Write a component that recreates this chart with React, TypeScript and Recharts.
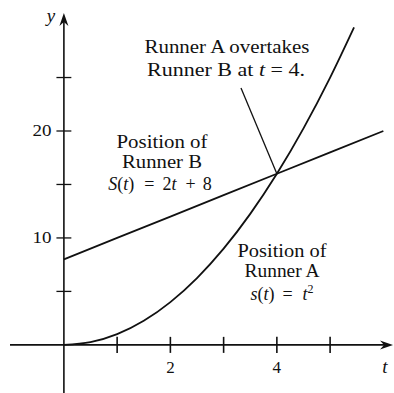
import React from "react";
import {
  LineChart,
  Line,
  XAxis,
  YAxis,
  ReferenceLine,
  ReferenceDot,
} from "recharts";

// Runner B: S(t) = 2t + 8
const timeB = [0, 1, 2, 3, 4, 5, 6];
const positionB = [8, 10, 12, 14, 16, 18, 20];

// Runner A: s(t) = t^2
const timeA = [0, 0.5, 1, 1.5, 2, 2.5, 3, 3.5, 4, 4.5, 5, 5.45];
const positionA = [0, 0.25, 1, 2.25, 4, 6.25, 9, 12.25, 16, 20.25, 25, 29.7];

const xTickMarks = [1, 2, 3, 4, 5];
const xTickLabels = [2, 4];
const yTickMarks = [5, 10, 15, 20, 25];
const yTickLabels = [10, 20];

const W = 394;
const H = 393;
const X_DOMAIN: [number, number] = [-1.2, 6.2];
const Y_DOMAIN: [number, number] = [-4.5, 32.25];

// pixel -> data helpers for placing the annotations
const tAt = (px: number) => X_DOMAIN[0] + (px / W) * (X_DOMAIN[1] - X_DOMAIN[0]);
const vAt = (py: number) => Y_DOMAIN[1] - (py / H) * (Y_DOMAIN[1] - Y_DOMAIN[0]);

const seriesA = timeA.map((t, i) => ({ t, v: positionA[i] }));
const seriesB = timeB.map((t, i) => ({ t, v: positionB[i] }));

const FONT = "Liberation Serif, Times New Roman, serif";

type Seg = { s: string; i?: boolean; sup?: boolean; dx?: number };
type Note = { x: number; y: number; w?: number; size?: number; segs: Seg[] };

const notes: Note[] = [
  { x: 227, y: 53, w: 165, segs: [{ s: "Runner A overtakes" }] },
  { x: 226, y: 76, w: 158, segs: [{ s: "Runner B at " }, { s: "t", i: true }, { s: " = 4." }] },
  { x: 162, y: 148, w: 91, segs: [{ s: "Position of" }] },
  { x: 162, y: 168, w: 80, segs: [{ s: "Runner B" }] },
  {
    x: 160,
    y: 190,
    segs: [
      { s: "S", i: true },
      { s: "(" },
      { s: "t", i: true },
      { s: ")" },
      { s: "=", dx: 10 },
      { s: "2", dx: 8 },
      { s: "t", i: true },
      { s: "+", dx: 9 },
      { s: "8", dx: 7 },
    ],
  },
  { x: 282, y: 257, w: 89, segs: [{ s: "Position of" }] },
  { x: 282, y: 277, w: 75, segs: [{ s: "Runner A" }] },
  {
    x: 282,
    y: 300,
    segs: [
      { s: "s", i: true },
      { s: "(" },
      { s: "t", i: true },
      { s: ")" },
      { s: "=", dx: 8 },
      { s: "t", i: true, dx: 10 },
      { s: "2", sup: true },
    ],
  },
  // axis names
  { x: 51, y: 22, size: 19, segs: [{ s: "y", i: true }] },
  { x: 385, y: 373, size: 19, segs: [{ s: "t", i: true }] },
];

const ArrowLine = (props: any) => {
  const { x1, y1, x2, y2 } = props;
  const dx = x2 - x1;
  const dy = y2 - y1;
  const len = Math.sqrt(dx * dx + dy * dy) || 1;
  const ux = dx / len;
  const uy = dy / len;
  const bx = x2 - ux * 13;
  const by = y2 - uy * 13;
  const nx = bx + ux * 4;
  const ny = by + uy * 4;
  const head = `${x2},${y2} ${bx - uy * 4.5},${by + ux * 4.5} ${nx},${ny} ${bx + uy * 4.5},${by - ux * 4.5}`;
  return (
    <g>
      <line x1={x1} y1={y1} x2={nx} y2={ny} stroke="#111" strokeWidth={1.6} />
      <polygon points={head} fill="#111" />
    </g>
  );
};

const renderNote = (n: Note) => (p: any) =>
  (
    <text
      x={p.cx}
      y={p.cy}
      textAnchor="middle"
      style={{ fontFamily: FONT, fontSize: n.size ?? 18 }}
      fill="#111"
      textLength={n.w}
      lengthAdjust={n.w ? "spacingAndGlyphs" : undefined}
    >
      {n.segs.map((g, k) => (
        <tspan
          key={k}
          style={{ fontStyle: g.i ? "italic" : "normal", fontSize: g.sup ? 12 : undefined }}
          dx={g.dx}
          dy={g.sup ? -7 : undefined}
        >
          {g.s}
        </tspan>
      ))}
    </text>
  );

export default function App() {
  return (
    <div style={{ position: "fixed", left: 0, top: 0, background: "#fff" }}>
      <LineChart width={W} height={H} margin={{ top: 0, right: 0, bottom: 0, left: 0 }}>
        <XAxis type="number" dataKey="t" domain={X_DOMAIN} allowDataOverflow hide />
        <YAxis type="number" dataKey="v" domain={Y_DOMAIN} allowDataOverflow hide />

        {/* axes with arrowheads */}
        <ReferenceLine
          segment={[{ x: tAt(10), y: 0 }, { x: tAt(393), y: 0 }]}
          shape={ArrowLine}
          ifOverflow="visible"
        />
        <ReferenceLine
          segment={[{ x: 0, y: Y_DOMAIN[0] }, { x: 0, y: vAt(13) }]}
          shape={ArrowLine}
          ifOverflow="visible"
        />

        {xTickMarks.map((t) => (
          <ReferenceLine
            key={`xt${t}`}
            segment={[{ x: t, y: -0.75 }, { x: t, y: 0.75 }]}
            stroke="#111"
            strokeWidth={1.6}
          />
        ))}
        {yTickMarks.map((v) => (
          <ReferenceLine
            key={`yt${v}`}
            segment={[{ x: -0.14, y: v }, { x: 0.14, y: v }]}
            stroke="#111"
            strokeWidth={1.3}
          />
        ))}
        {xTickLabels.map((t) => (
          <ReferenceDot
            key={`xl${t}`}
            x={t}
            y={vAt(373)}
            r={0}
            shape={renderNote({ x: 0, y: 0, size: 17, segs: [{ s: String(t) }] })}
          />
        ))}
        {yTickLabels.map((v) => (
          <ReferenceDot
            key={`yl${v}`}
            x={tAt(42)}
            y={v - 0.5}
            r={0}
            shape={renderNote({ x: 0, y: 0, size: 17, w: 19, segs: [{ s: String(v) }] })}
          />
        ))}

        {/* pointer to the crossing point */}
        <ReferenceLine
          segment={[{ x: tAt(241), y: vAt(88) }, { x: 4, y: 16 }]}
          stroke="#111"
          strokeWidth={1.3}
        />

        <Line
          data={seriesB}
          dataKey="v"
          type="linear"
          stroke="#111"
          strokeWidth={1.8}
          dot={false}
          activeDot={false}
          isAnimationActive={false}
        />
        <Line
          data={seriesA}
          dataKey="v"
          type="monotone"
          stroke="#111"
          strokeWidth={1.8}
          dot={false}
          activeDot={false}
          isAnimationActive={false}
        />

        {notes.map((n, k) => (
          <ReferenceDot key={`n${k}`} x={tAt(n.x)} y={vAt(n.y)} r={0} shape={renderNote(n)} />
        ))}
      </LineChart>
    </div>
  );
}
